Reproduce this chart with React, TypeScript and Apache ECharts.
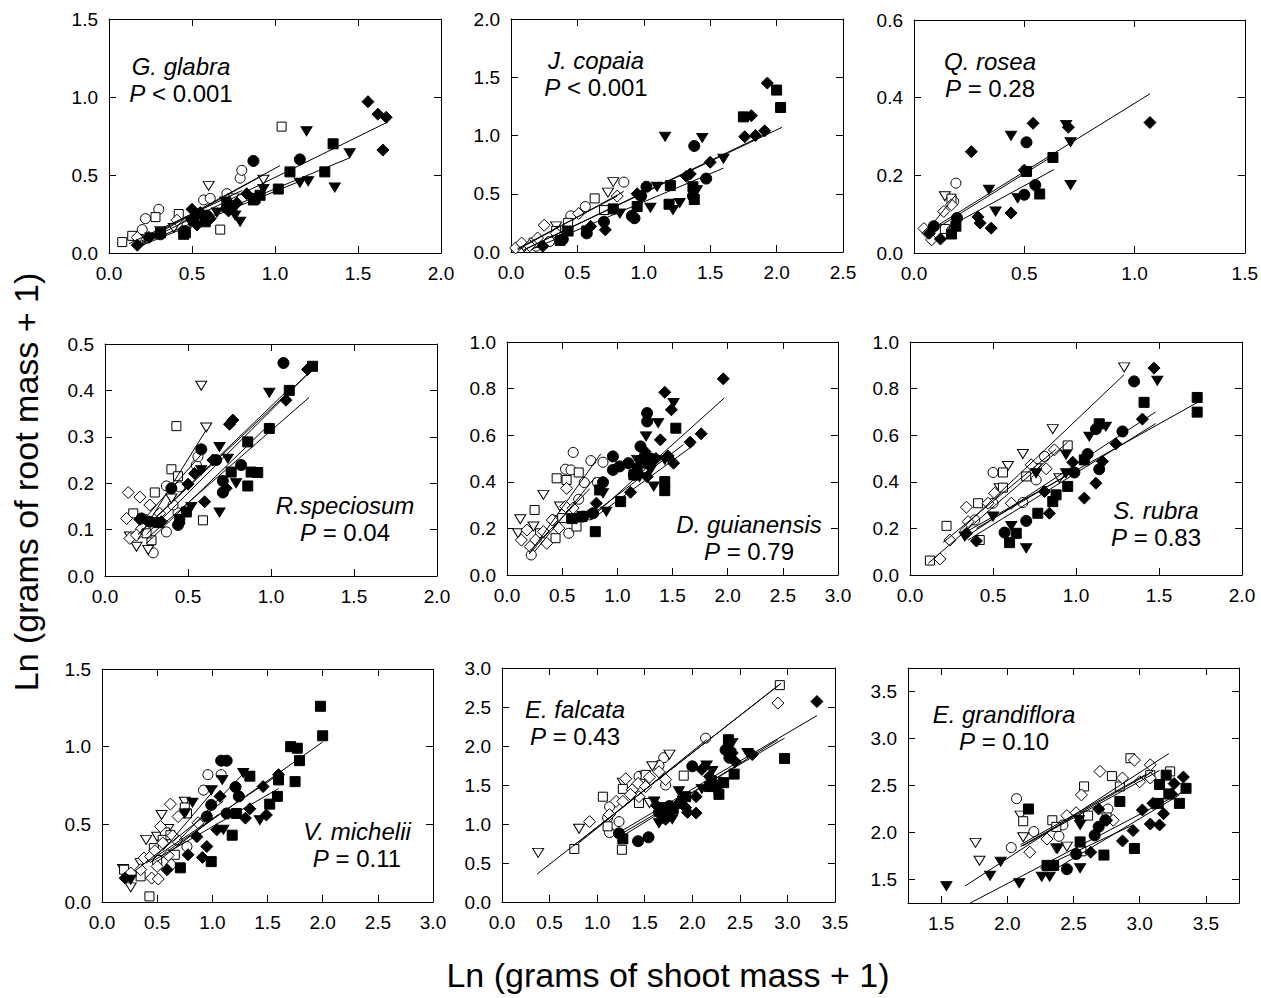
import React, { useEffect, useRef } from 'react';
import * as echarts from 'echarts';

const FONT = '"Liberation Sans", Arial, Helvetica, sans-serif';

// ---------- axis ranges per panel ----------
const xMin = [0, 0, 0, 0, 0, 0, 0, 0, 1.25];
const xMax = [2, 2.5, 1.5, 2, 3, 2, 3, 3.5, 3.75];
const xStep = [0.5, 0.5, 0.5, 0.5, 0.5, 0.5, 0.5, 0.5, 0.25];
const yMin = [0, 0, 0, 0, 0, 0, 0, 0, 1.25];
const yMax = [1.5, 2, 0.6, 0.5, 1, 1, 1.5, 3, 3.75];
const yStep = [0.5, 0.5, 0.2, 0.1, 0.2, 0.2, 0.5, 0.5, 0.25];
const grandifloraTicks = [1.5, 2.0, 2.5, 3.0, 3.5];

// ---------- labels ----------
const species = ['G. glabra', 'J. copaia', 'Q. rosea', 'R.speciosum', 'D. guianensis', 'S. rubra', 'V. michelii', 'E. falcata', 'E. grandiflora'];
const pValues = ['< 0.001', '< 0.001', '= 0.28', '= 0.04', '= 0.79', '= 0.83', '= 0.11', '= 0.43', '= 0.10'];
const xTitle = 'Ln (grams of shoot mass + 1)';
const yTitle = 'Ln (grams of root mass + 1)';

// ---------- data: oc/ot/os/od = open circle/triangle/square/diamond, fc/ft/fs/fd = filled ----------
const glabra_oc = [[0.22,0.22],[0.30,0.28],[0.20,0.15],[0.47,0.18],[0.57,0.34],[0.61,0.35],[0.79,0.48],[0.80,0.53],[0.71,0.38]];
const glabra_ot = [[0.60,0.43],[0.93,0.47],[0.39,0.16],[0.31,0.14],[0.75,0.35]];
const glabra_os = [[0.08,0.07],[0.14,0.11],[0.28,0.23],[0.42,0.25],[0.67,0.15],[1.04,0.81],[0.19,0.085]];
const glabra_od = [[0.41,0.21],[0.17,0.10]];
const glabra_fc = [[0.87,0.59],[1.15,0.60],[0.45,0.14],[0.59,0.24],[0.71,0.29],[0.31,0.12]];
const glabra_ft = [[1.19,0.78],[1.45,0.64],[1.36,0.42],[1.15,0.45],[1.20,0.46],[0.93,0.41],[0.79,0.20],[0.49,0.20],[0.65,0.26],[0.25,0.10],[0.52,0.25],[0.70,0.33],[0.76,0.24]];
const glabra_fs = [[1.35,0.70],[1.30,0.52],[1.02,0.41],[0.91,0.37],[0.87,0.34],[1.09,0.52],[0.46,0.13],[0.71,0.31],[0.31,0.13],[0.45,0.12],[0.58,0.20],[0.74,0.28],[0.88,0.35]];
const glabra_fd = [[1.56,0.97],[1.62,0.89],[1.67,0.87],[1.65,0.66],[0.17,0.05],[0.24,0.10],[0.51,0.22],[0.77,0.32],[0.83,0.38],[0.55,0.26],[0.61,0.22],[0.50,0.28],[0.53,0.18],[0.72,0.27],[0.75,0.30]];
const glabra_lines = [[0.15,0.04,1.68,0.84],[0.18,0.05,1.45,0.61],[0.2,0.05,1.22,0.49],[0.15,0.05,1.03,0.56],[0.2,0.07,0.93,0.50],[0.12,0.06,0.8,0.40]];

const copaia_oc = [[0.56,0.39],[0.85,0.60],[0.29,0.09],[0.45,0.31],[0.19,0.05]];
const copaia_ot = [[0.77,0.60],[0.73,0.51],[0.34,0.22],[0.10,0.04]];
const copaia_os = [[0.63,0.46],[0.43,0.25],[0.34,0.18],[0.70,0.36],[0.17,0.08],[0.42,0.18]];
const copaia_od = [[0.035,0.035],[0.08,0.077],[0.14,0.054],[0.20,0.12],[0.25,0.23],[0.51,0.33],[0.80,0.48],[0.34,0.16]];
const copaia_fc = [[1.38,0.91],[1.47,0.63],[0.39,0.11],[0.70,0.26],[0.91,0.31],[1.02,0.56],[1.37,0.48],[0.57,0.16],[0.98,0.48],[0.93,0.29]];
const copaia_ft = [[1.16,0.99],[1.44,0.98],[1.60,0.80],[1.22,0.36],[1.27,0.42],[1.40,0.53],[1.05,0.38],[1.10,0.56],[0.82,0.33]];
const copaia_fs = [[1.75,1.16],[2.00,1.39],[2.03,1.24],[1.20,0.57],[1.19,0.41],[1.37,0.56],[0.77,0.37],[0.57,0.18],[0.95,0.39],[0.37,0.10],[0.43,0.18],[1.38,0.45]];
const copaia_fd = [[1.93,1.45],[1.81,1.17],[1.76,0.99],[1.84,1.00],[1.91,1.04],[1.50,0.77],[1.32,0.65],[0.71,0.19],[0.95,0.50],[0.60,0.22],[0.24,0.05],[1.35,0.67]];
const copaia_lines = [[0.1,0.02,2.04,1.07],[0.1,0.02,1.95,1.03],[0.15,0.02,1.6,0.72],[0.05,0.02,0.85,0.52],[0.05,0.03,0.8,0.48]];

const rosea_oc = [[0.19,0.18],[0.18,0.133]];
const rosea_ot = [[0.14,0.146]];
const rosea_os = [[0.17,0.14],[0.14,0.062]];
const rosea_od = [[0.045,0.063],[0.08,0.034],[0.135,0.107],[0.17,0.124],[0.063,0.051]];
const rosea_fc = [[0.51,0.285],[0.55,0.175],[0.50,0.15],[0.195,0.09],[0.09,0.069]];
const rosea_ft = [[0.44,0.302],[0.71,0.285],[0.71,0.175],[0.34,0.163],[0.37,0.107],[0.69,0.33],[0.47,0.141]];
const rosea_fs = [[0.63,0.246],[0.57,0.152],[0.17,0.049],[0.19,0.069],[0.51,0.21]];
const rosea_fd = [[0.54,0.334],[1.07,0.336],[0.70,0.324],[0.26,0.261],[0.50,0.213],[0.30,0.077],[0.35,0.064],[0.44,0.103],[0.12,0.036],[0.07,0.051],[0.29,0.093]];
const rosea_lines = [[0.09,0.065,1.07,0.41],[0.12,0.07,0.63,0.25],[0.15,0.065,0.635,0.215],[0.05,0.05,0.19,0.15]];

const speciosum_oc = [[0.29,0.05],[0.37,0.095],[0.44,0.136],[0.45,0.192],[0.55,0.239],[0.56,0.257],[0.37,0.194],[0.41,0.153]];
const speciosum_ot = [[0.58,0.41],[0.61,0.32],[0.19,0.063],[0.26,0.056],[0.40,0.167],[0.15,0.085]];
const speciosum_os = [[0.43,0.323],[0.40,0.23],[0.44,0.215],[0.30,0.18],[0.59,0.12],[0.28,0.077],[0.25,0.092],[0.17,0.135]];
const speciosum_od = [[0.14,0.18],[0.21,0.17],[0.13,0.124],[0.15,0.081],[0.19,0.088],[0.27,0.153],[0.33,0.135],[0.25,0.12]];
const speciosum_fc = [[1.075,0.459],[0.58,0.273],[0.82,0.239],[0.71,0.205],[0.71,0.18],[0.40,0.189],[0.44,0.11],[0.22,0.124],[0.27,0.117],[0.67,0.25]];
const speciosum_ft = [[0.99,0.395],[0.69,0.278],[0.74,0.253],[0.79,0.20],[0.69,0.137],[0.58,0.228],[0.52,0.149]];
const speciosum_fs = [[1.25,0.452],[1.11,0.40],[0.99,0.318],[0.86,0.289],[0.88,0.224],[0.92,0.223],[0.86,0.194],[0.76,0.224],[0.45,0.122],[0.32,0.115],[0.49,0.138]];
const speciosum_fd = [[1.22,0.445],[1.09,0.379],[0.75,0.327],[0.77,0.336],[0.60,0.16],[0.50,0.198],[0.54,0.221],[0.73,0.189],[0.34,0.117],[0.21,0.122],[0.65,0.25]];
const speciosum_lines = [[0.2,0.09,1.25,0.445],[0.25,0.09,1.22,0.435],[0.25,0.08,1.23,0.385],[0.2,0.09,1.1,0.40],[0.2,0.08,0.61,0.315],[0.18,0.10,0.6,0.27],[0.25,0.07,1.0,0.33]];

const guianensis_oc = [[0.60,0.526],[0.76,0.491],[0.87,0.484],[0.70,0.397],[0.82,0.397],[0.53,0.454],[0.58,0.451],[0.65,0.325],[0.75,0.258],[0.22,0.086],[0.56,0.179],[0.42,0.236]];
const guianensis_ot = [[0.33,0.344],[0.12,0.239],[0.10,0.179],[0.24,0.208],[0.48,0.294]];
const guianensis_os = [[0.45,0.415],[0.54,0.408],[0.65,0.44],[0.25,0.279],[0.50,0.244],[0.44,0.158],[0.63,0.208],[0.30,0.179]];
const guianensis_od = [[0.54,0.372],[0.53,0.294],[0.60,0.287],[0.41,0.236],[0.33,0.186],[0.26,0.15],[0.18,0.193],[0.13,0.15],[0.47,0.201],[0.21,0.122],[0.36,0.136]];
const guianensis_fc = [[1.27,0.695],[1.27,0.659],[0.96,0.509],[0.96,0.451],[0.87,0.398],[0.78,0.265],[1.02,0.466],[1.15,0.43],[1.21,0.552],[0.69,0.251],[1.10,0.48],[1.30,0.50]];
const guianensis_ft = [[1.51,0.738],[1.37,0.652],[1.26,0.595],[0.90,0.272],[1.33,0.38],[1.18,0.494],[1.43,0.494],[0.87,0.351],[1.25,0.50],[1.30,0.45],[1.20,0.42]];
const guianensis_fs = [[0.80,0.186],[1.03,0.315],[1.43,0.401],[1.43,0.362],[0.68,0.251],[0.59,0.242],[1.53,0.63],[1.18,0.458],[0.84,0.365],[1.15,0.43],[1.28,0.48]];
const guianensis_fd = [[1.96,0.842],[1.43,0.784],[1.49,0.709],[1.76,0.606],[1.66,0.57],[1.51,0.48],[1.46,0.511],[1.39,0.58],[1.12,0.355],[0.81,0.308],[1.27,0.422],[1.21,0.494],[1.30,0.47],[1.25,0.53],[1.35,0.50]];
const guianensis_lines = [[0.75,0.24,1.97,0.76],[0.8,0.25,1.7,0.56],[0.8,0.27,1.6,0.56],[0.2,0.09,0.85,0.52],[0.25,0.10,0.8,0.42],[0.2,0.10,0.75,0.37]];

const rubra_oc = [[0.50,0.44],[0.81,0.509],[0.76,0.408],[0.68,0.311],[0.50,0.308],[0.39,0.236]];
const rubra_ot = [[1.29,0.891],[0.86,0.626],[0.68,0.519],[0.59,0.468],[0.54,0.372],[0.90,0.415],[0.76,0.458]];
const rubra_os = [[0.12,0.062],[0.22,0.211],[0.41,0.308],[0.56,0.375],[0.56,0.44],[0.70,0.423],[0.95,0.556],[0.42,0.15]];
const rubra_od = [[0.18,0.069],[0.24,0.15],[0.34,0.291],[0.35,0.229],[0.47,0.308],[0.61,0.308],[0.73,0.473],[0.82,0.456],[0.87,0.537],[0.51,0.351]];
const rubra_fc = [[1.35,0.831],[1.28,0.616],[1.12,0.626],[1.07,0.519],[1.14,0.454],[0.99,0.44],[0.70,0.232],[0.57,0.182]];
const rubra_ft = [[1.49,0.834],[1.18,0.637],[1.08,0.594],[0.94,0.516],[0.76,0.437],[0.70,0.115],[0.61,0.21],[0.33,0.165],[0.50,0.251],[0.94,0.437]];
const rubra_fs = [[1.73,0.762],[1.73,0.699],[1.41,0.741],[1.14,0.649],[1.05,0.494],[0.95,0.38],[0.88,0.344],[0.60,0.139],[0.64,0.179],[0.77,0.265],[0.86,0.315]];
const rubra_fd = [[1.47,0.888],[1.40,0.669],[1.24,0.563],[1.16,0.487],[1.12,0.394],[1.05,0.33],[0.98,0.484],[0.81,0.358],[0.84,0.265],[0.40,0.146],[0.34,0.179]];
const rubra_lines = [[0.3,0.19,1.29,0.86],[0.11,0.05,0.95,0.57],[0.2,0.14,0.88,0.54],[0.3,0.17,1.73,0.74],[0.35,0.17,1.48,0.70],[0.35,0.15,1.48,0.65],[0.4,0.2,0.95,0.43]];

const michelii_oc = [[0.92,0.72],[0.96,0.82],[1.08,0.82],[0.77,0.357],[0.68,0.40]];
const michelii_ot = [[0.54,0.56],[0.75,0.645],[0.19,0.212],[0.26,0.094],[0.40,0.40],[0.50,0.42],[0.35,0.25],[0.60,0.47]];
const michelii_os = [[0.75,0.608],[0.77,0.57],[0.43,0.036],[0.47,0.347],[0.57,0.448],[0.66,0.304],[0.35,0.165],[0.20,0.208],[0.55,0.40],[0.62,0.43],[0.50,0.27]];
const michelii_od = [[0.62,0.63],[0.69,0.55],[0.53,0.486],[0.64,0.426],[0.38,0.283],[0.35,0.208],[0.45,0.154],[0.51,0.148],[0.26,0.186],[0.87,0.51],[0.63,0.24],[0.50,0.229],[0.44,0.293],[0.55,0.38],[0.60,0.30],[0.48,0.33]];
const michelii_fc = [[1.08,0.91],[1.13,0.91],[1.21,0.74],[1.24,0.68],[1.13,0.57],[0.99,0.625],[0.95,0.55]];
const michelii_ft = [[1.28,0.83],[1.09,0.786],[0.99,0.72],[0.82,0.64],[0.75,0.57],[1.10,0.465],[1.43,0.527],[0.26,0.143]];
const michelii_fs = [[1.98,1.26],[2.0,1.07],[1.71,1.0],[1.77,0.99],[1.79,0.91],[1.75,0.775],[1.6,0.786],[1.52,0.63],[1.59,0.68],[1.34,0.81],[1.18,0.43],[0.99,0.26],[0.71,0.22],[1.22,0.57]];
const michelii_fd = [[1.6,0.82],[1.46,0.743],[1.49,0.56],[1.34,0.6],[1.3,0.54],[0.91,0.287],[0.78,0.304],[1.04,0.465],[0.59,0.208],[0.21,0.154],[0.86,0.42],[1.07,0.68],[0.95,0.357]];
const michelii_lines = [[0.6,0.33,2.0,1.03],[0.4,0.25,1.6,0.82],[0.45,0.26,1.6,0.73],[0.7,0.4,1.3,0.84],[0.55,0.33,1.05,0.75],[0.3,0.2,1.1,0.65],[0.5,0.26,1.05,0.56]];

const falcata_oc = [[2.14,2.1],[1.13,0.89],[1.23,1.03],[1.13,1.22],[1.72,1.5],[1.7,1.85],[1.44,1.61],[1.11,1.08],[1.65,1.75],[1.5,1.55]];
const falcata_ot = [[0.38,0.63],[0.81,0.94],[1.76,1.89],[1.58,1.74],[1.55,1.27],[1.27,1.53],[1.5,1.62]];
const falcata_os = [[0.76,0.68],[2.92,2.78],[1.06,1.35],[1.26,0.67],[1.91,1.62],[1.51,1.63],[1.27,1.45],[1.44,1.27],[1.11,0.97]];
const falcata_od = [[0.92,1.03],[2.9,2.55],[1.3,1.58],[1.13,1.12],[1.2,1.29],[1.37,1.44],[1.43,1.52],[1.51,1.48],[1.65,1.67],[1.72,1.57],[1.27,1.29],[1.44,1.35],[1.55,1.6],[1.35,1.38]];
const falcata_fc = [[1.43,0.78],[1.54,0.83],[1.23,0.88],[2.35,1.95],[2.39,1.85],[2.0,1.74],[1.76,1.23],[1.65,1.15],[1.7,1.08]];
const falcata_ft = [[1.6,1.29],[1.86,1.42],[1.65,1.01],[2.58,1.91],[2.42,2.04],[2.21,1.68],[1.79,1.06],[1.7,1.15],[1.9,1.3],[2.1,1.45],[2.15,1.75]];
const falcata_fs = [[2.97,1.84],[2.38,2.08],[2.44,1.64],[2.33,1.53],[2.18,1.48],[2.28,1.38],[1.27,0.81],[1.76,1.14],[1.93,1.35],[1.7,1.21],[1.8,1.2],[2.2,1.55],[2.4,1.9]];
const falcata_fd = [[3.31,2.57],[2.63,1.89],[2.42,1.91],[2.1,1.7],[2.18,1.61],[2.04,1.14],[1.93,1.21],[1.72,1.06],[1.86,1.27],[2.04,1.35],[1.63,1.23],[2.3,1.53],[1.75,1.1],[1.95,1.15],[2.25,1.45],[2.4,1.95],[2.45,1.8]];
const falcata_lines = [[0.37,0.36,2.93,2.8],[0.75,0.72,2.93,2.8],[0.8,0.75,2.15,2.08],[1.2,0.87,3.31,2.39],[1.25,0.87,2.97,2.1],[1.3,0.87,2.9,2.08]];

const grandiflora_oc = [[2.07,2.36],[2.2,2.01],[2.03,1.84],[2.39,1.96],[2.76,2.25],[2.42,2.08]];
const grandiflora_ot = [[1.76,1.89],[1.79,1.7],[2.12,1.95],[2.37,1.83],[2.45,1.85],[2.1,2.18]];
const grandiflora_os = [[2.12,2.12],[2.34,2.13],[2.37,2.06],[2.58,2.49],[2.61,2.18],[2.75,2.16],[2.79,2.6],[2.85,2.49],[2.93,2.79],[3.23,2.65],[3.08,2.61],[2.56,1.8]];
const grandiflora_od = [[2.17,1.79],[2.3,1.93],[2.45,2.18],[2.56,2.4],[2.7,2.65],[2.87,2.58],[2.96,2.77],[3.0,2.54],[3.08,2.72],[3.08,2.58],[2.8,2.13],[2.52,2.21]];
const grandiflora_fc = [[2.45,1.61],[2.52,1.77],[2.66,1.97],[2.69,2.06],[2.74,2.13]];
const grandiflora_ft = [[1.54,1.43],[1.87,1.54],[1.95,1.69],[2.09,1.46],[2.26,1.53],[2.32,1.53],[2.54,2.13],[2.55,2.08],[2.55,1.62],[2.38,1.83]];
const grandiflora_fs = [[2.16,2.25],[2.3,1.65],[2.35,1.65],[2.55,1.9],[2.73,1.76],[2.85,2.33],[2.96,1.83],[3.15,2.51],[3.2,2.61],[3.3,2.31],[3.35,2.47],[3.14,2.31],[3.22,2.41]];
const grandiflora_fd = [[2.69,2.25],[2.63,1.79],[2.87,1.91],[2.95,2.02],[3.02,2.24],[3.08,2.09],[3.15,2.08],[3.18,2.2],[3.24,2.41],[3.33,2.59],[3.26,2.52],[2.75,2.13],[3.1,2.31]];
const grandiflora_lines = [[1.68,1.43,3.22,2.84],[2.1,1.85,3.1,2.65],[2.12,1.86,3.15,2.66],[2.1,1.87,3.05,2.62],[1.72,1.25,3.35,2.45],[2.25,1.62,2.95,2.08],[2.35,1.6,3.3,2.4]];

const panelPoints = [
  [glabra_oc, glabra_ot, glabra_os, glabra_od, glabra_fc, glabra_ft, glabra_fs, glabra_fd],
  [copaia_oc, copaia_ot, copaia_os, copaia_od, copaia_fc, copaia_ft, copaia_fs, copaia_fd],
  [rosea_oc, rosea_ot, rosea_os, rosea_od, rosea_fc, rosea_ft, rosea_fs, rosea_fd],
  [speciosum_oc, speciosum_ot, speciosum_os, speciosum_od, speciosum_fc, speciosum_ft, speciosum_fs, speciosum_fd],
  [guianensis_oc, guianensis_ot, guianensis_os, guianensis_od, guianensis_fc, guianensis_ft, guianensis_fs, guianensis_fd],
  [rubra_oc, rubra_ot, rubra_os, rubra_od, rubra_fc, rubra_ft, rubra_fs, rubra_fd],
  [michelii_oc, michelii_ot, michelii_os, michelii_od, michelii_fc, michelii_ft, michelii_fs, michelii_fd],
  [falcata_oc, falcata_ot, falcata_os, falcata_od, falcata_fc, falcata_ft, falcata_fs, falcata_fd],
  [grandiflora_oc, grandiflora_ot, grandiflora_os, grandiflora_od, grandiflora_fc, grandiflora_ft, grandiflora_fs, grandiflora_fd],
];
const panelLines = [glabra_lines, copaia_lines, rosea_lines, speciosum_lines, guianensis_lines, rubra_lines, michelii_lines, falcata_lines, grandiflora_lines];

// ---------- layout (pixels) ----------
const gridBoxes = [
  { left: 109, top: 19, width: 332, height: 234 },
  { left: 511, top: 19, width: 332, height: 233 },
  { left: 914, top: 20, width: 333, height: 233 },
  { left: 105, top: 344, width: 332, height: 232 },
  { left: 507, top: 342, width: 331, height: 233 },
  { left: 910, top: 342, width: 332, height: 233 },
  { left: 102, top: 669, width: 331, height: 233 },
  { left: 502, top: 668, width: 333, height: 234 },
  { left: 908, top: 668, width: 331, height: 235 },
];
const annotPos = [
  { x: 181, y1: 66, y2: 93 },
  { x: 596, y1: 60, y2: 87 },
  { x: 990, y1: 61, y2: 88 },
  { x: 345, y1: 505, y2: 532 },
  { x: 749, y1: 524, y2: 551 },
  { x: 1156, y1: 510, y2: 537 },
  { x: 357, y1: 831, y2: 858 },
  { x: 575, y1: 709, y2: 736 },
  { x: 1004, y1: 714, y2: 741 },
];

const markerDefs = [
  { symbol: 'circle', size: 10, rotate: 0, fill: '#fff' },
  { symbol: 'triangle', size: [11, 9], rotate: 180, fill: '#fff' },
  { symbol: 'rect', size: 9, rotate: 0, fill: '#fff' },
  { symbol: 'diamond', size: 12, rotate: 0, fill: '#fff' },
  { symbol: 'circle', size: 11, rotate: 0, fill: '#000' },
  { symbol: 'triangle', size: [11, 9], rotate: 180, fill: '#000' },
  { symbol: 'rect', size: 10, rotate: 0, fill: '#000' },
  { symbol: 'diamond', size: 12, rotate: 0, fill: '#000' },
];

const fmt = (v: number) => v.toFixed(1);
const fmtHalf = (v: number) => (Math.abs(v * 2 - Math.round(v * 2)) < 1e-6 ? v.toFixed(1) : '');

function makeAxis(i: number, dim: 'x' | 'y', position: string, showLabel: boolean) {
  const isX = dim === 'x';
  const ax: any = {
    type: 'value',
    gridIndex: i,
    position,
    min: isX ? xMin[i] : yMin[i],
    max: isX ? xMax[i] : yMax[i],
    interval: isX ? xStep[i] : yStep[i],
    axisLine: { show: true, onZero: false, lineStyle: { color: '#000', width: 1 } },
    axisTick: { show: true, inside: true, length: 7, lineStyle: { color: '#000', width: 1 } },
    axisLabel: {
      show: showLabel,
      fontSize: 19,
      color: '#000',
      fontFamily: FONT,
      margin: 11,
      formatter: fmt,
    },
    splitLine: { show: false },
  };
  if (i === 8) {
    ax.axisTick.customValues = grandifloraTicks;
    ax.axisLabel.customValues = grandifloraTicks;
    ax.axisLabel.formatter = fmtHalf;
  }
  return ax;
}

export default function App() {
  const ref = useRef<HTMLDivElement>(null);

  useEffect(() => {
    document.body.style.margin = '0';
    if (!ref.current) return;
    const chart = echarts.init(ref.current, null, { renderer: 'svg' });

    const grid: any[] = [];
    const xAxis: any[] = [];
    const yAxis: any[] = [];
    const series: any[] = [];
    const graphic: any[] = [];

    for (let i = 0; i < 9; i++) {
      grid.push({ ...gridBoxes[i], containLabel: false });
      xAxis.push(makeAxis(i, 'x', 'bottom', true));
      xAxis.push(makeAxis(i, 'x', 'top', false));
      yAxis.push(makeAxis(i, 'y', 'left', true));
      yAxis.push(makeAxis(i, 'y', 'right', false));

      panelPoints[i].forEach((pts, k) => {
        const m = markerDefs[k];
        series.push({
          type: 'scatter',
          xAxisIndex: 2 * i,
          yAxisIndex: 2 * i,
          data: pts,
          symbol: m.symbol,
          symbolSize: m.size,
          symbolRotate: m.rotate,
          itemStyle: { color: m.fill, borderColor: '#000', borderWidth: 1, opacity: 1 },
          silent: true,
          z: 2,
        });
      });

      panelLines[i].forEach((l) => {
        series.push({
          type: 'line',
          xAxisIndex: 2 * i,
          yAxisIndex: 2 * i,
          data: [[l[0], l[1]], [l[2], l[3]]],
          symbol: 'none',
          lineStyle: { color: '#000', width: 1 },
          silent: true,
          z: 3,
        });
      });

      const a = annotPos[i];
      graphic.push({
        type: 'text',
        x: a.x,
        y: a.y1,
        style: {
          text: species[i],
          fontSize: 24,
          fontStyle: 'italic',
          fontFamily: FONT,
          fill: '#000',
          align: 'center',
          verticalAlign: 'middle',
        },
      });
      graphic.push({
        type: 'text',
        x: a.x,
        y: a.y2,
        style: {
          text: '{i|P} ' + pValues[i],
          fontSize: 24,
          fontFamily: FONT,
          fill: '#000',
          align: 'center',
          verticalAlign: 'middle',
          rich: { i: { fontStyle: 'italic', fontSize: 24, fontFamily: FONT, fill: '#000' } },
        },
      });
    }

    graphic.push({
      type: 'text',
      x: 668,
      y: 975,
      style: { text: xTitle, fontSize: 34, fontFamily: FONT, fill: '#000', align: 'center', verticalAlign: 'middle' },
    });
    graphic.push({
      type: 'text',
      x: 26,
      y: 482,
      rotation: Math.PI / 2,
      style: { text: yTitle, fontSize: 34, fontFamily: FONT, fill: '#000', align: 'center', verticalAlign: 'middle' },
    });

    chart.setOption({
      animation: false,
      backgroundColor: '#fff',
      grid,
      xAxis,
      yAxis,
      series,
      graphic,
    });

    return () => chart.dispose();
  }, []);

  return <div ref={ref} style={{ width: 1261, height: 998 }} />;
}
